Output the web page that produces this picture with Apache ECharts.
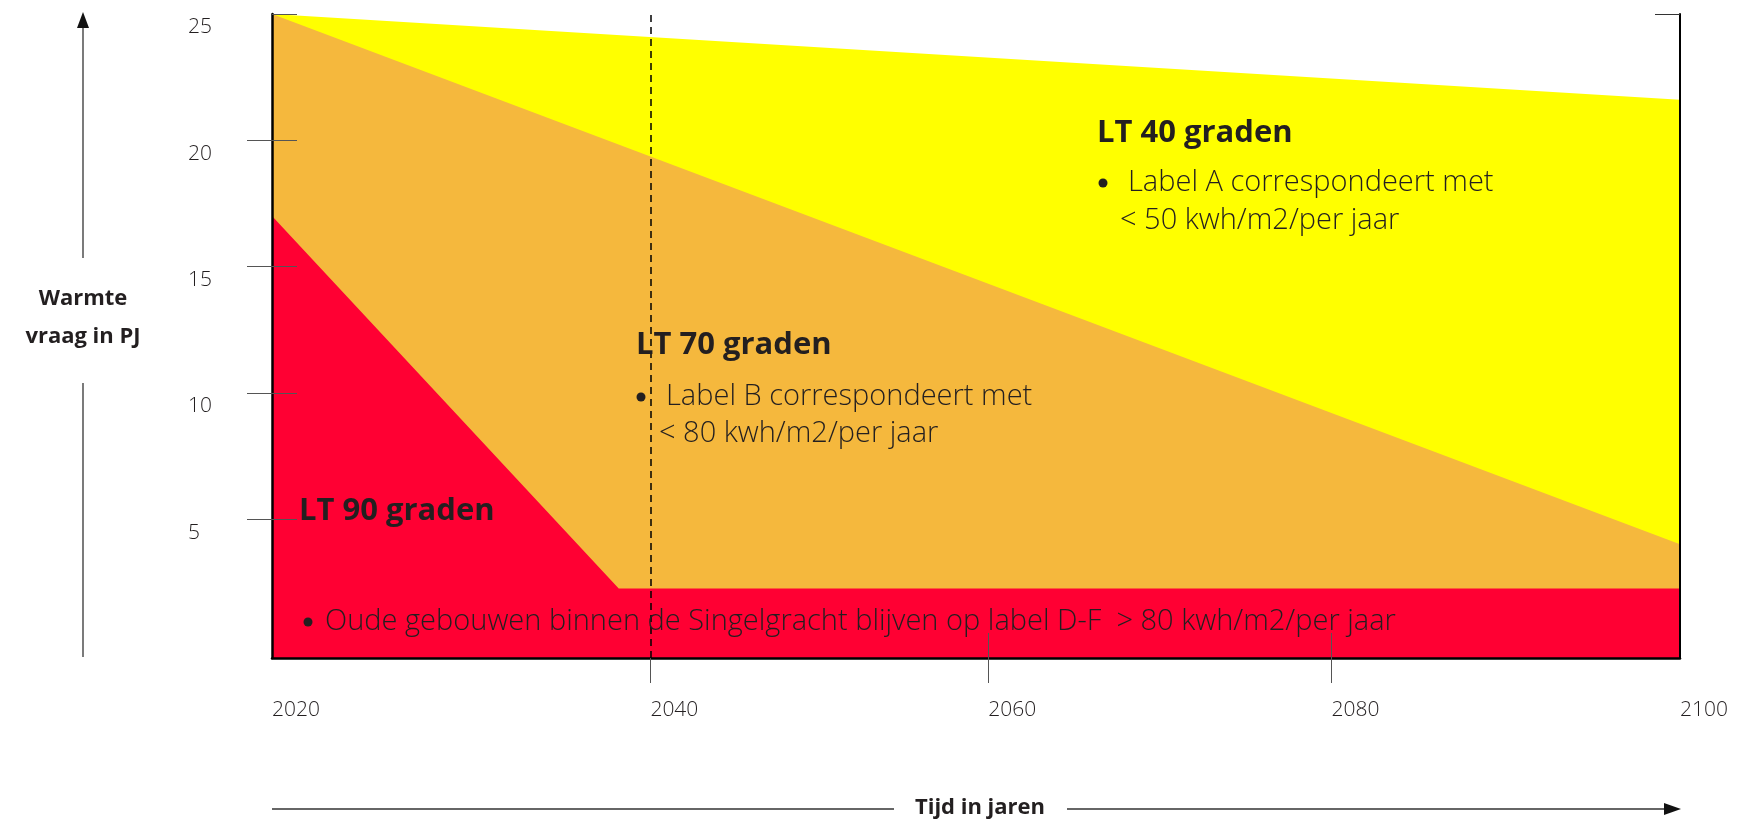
<!DOCTYPE html>
<html>
<head>
<meta charset="utf-8">
<title>Warmtevraag</title>
<script src="https://cdn.jsdelivr.net/npm/echarts@6/dist/echarts.min.js"></script>
<style>
  html, body { margin: 0; padding: 0; background: #fff; }
  #chart { width: 1741px; height: 826px; }
</style>
</head>
<body>
<div id="chart"></div>
<script>
// data (years / PJ)
const lt40Years = [2020, 2100]
const lt40Values = [25, 21.6]
const lt70Years = [2020, 2100]
const lt70Values = [25, 4.0]
const lt90Years = [2020, 2039.7, 2100]
const lt90Values = [17.0, 2.25, 2.25]

// tick positions as drawn (the drawn axis is not evenly spaced)
const xTickValues = [2020, 2041.5, 2060.7, 2080.2, 2100]
const xTickLabels = ['2020', '2040', '2060', '2080', '2100']
const yTickValues = [5, 10, 15, 20, 25]
const markYear = 2041.5

const FONT = 'Open Sans'
const TEXT = '#231f20'

const pairs = (xs, ys) => xs.map((x, i) => [x, ys[i]])

const areaSeries = (name, xs, ys, color) => ({
  name: name,
  type: 'line',
  data: pairs(xs, ys),
  symbol: 'none',
  silent: true,
  lineStyle: { width: 0 },
  areaStyle: { color: color, opacity: 1, origin: 'start' }
})

const chart = echarts.init(document.getElementById('chart'))

const lightText = (text, x, y, size) => ({
  type: 'text', x: x, y: y, z: 100, silent: true,
  style: { text: text, fontFamily: FONT, fontWeight: 300, fontSize: size, fill: TEXT, verticalAlign: 'middle' }
})
const boldText = (text, x, y, size) => ({
  type: 'text', x: x, y: y, z: 100, silent: true,
  style: { text: text, fontFamily: FONT, fontWeight: 'bold', fontSize: size, fill: TEXT, verticalAlign: 'middle' }
})
const bullet = (x, y) => ({ type: 'circle', z: 100, silent: true, shape: { cx: x, cy: y, r: 4.5 }, style: { fill: TEXT } })

const option = {
  animation: false,
  grid: { left: 272, right: 61, top: 14, bottom: 168 },
  xAxis: [
    {
      type: 'value', min: 2020, max: 2100, z: 10,
      splitLine: { show: false },
      axisLine: { onZero: false, lineStyle: { color: '#000', width: 2.5 } },
      axisTick: { customValues: [2041.5, 2060.7, 2080.2], length: 25, lineStyle: { color: '#555', width: 1 } },
      axisLabel: {
        customValues: xTickValues,
        formatter: v => {
          let best = 0
          xTickValues.forEach((t, i) => { if (Math.abs(t - v) < Math.abs(xTickValues[best] - v)) best = i })
          return xTickLabels[best]
        },
        align: 'left', margin: 42, fontFamily: FONT, fontWeight: 300, fontSize: 21, color: TEXT
      }
    },
    {
      type: 'value', min: 2020, max: 2100, position: 'bottom', z: 10,
      splitLine: { show: false },
      axisLine: { show: false, onZero: false },
      axisTick: { inside: true, customValues: [2060.7, 2080.2], length: 25, lineStyle: { color: '#555', width: 1 } },
      axisLabel: { show: false }
    }
  ],
  yAxis: [
    {
      type: 'value', min: -0.5, max: 25, position: 'left', z: 10,
      splitLine: { show: false },
      axisLine: { show: true, onZero: false, lineStyle: { color: '#000', width: 2.5 } },
      axisTick: { show: true, customValues: [5, 10, 15, 20], length: 25, lineStyle: { color: '#555', width: 1 } },
      axisLabel: {
        customValues: yTickValues,
        align: 'left', verticalAlign: 'top', padding: [3, 0, 0, 0], margin: 84,
        fontFamily: FONT, fontWeight: 300, fontSize: 21, color: TEXT
      }
    },
    {
      type: 'value', min: -0.5, max: 25, position: 'left', z: 10,
      splitLine: { show: false },
      axisLine: { show: false, onZero: false },
      axisTick: { show: true, inside: true, customValues: yTickValues, length: 25, lineStyle: { color: '#555', width: 1 } },
      axisLabel: { show: false }
    },
    {
      type: 'value', min: -0.5, max: 25, position: 'right', z: 10,
      splitLine: { show: false },
      axisLine: { show: true, onZero: false, lineStyle: { color: '#000', width: 2 } },
      axisTick: { show: true, inside: true, customValues: [25], length: 25, lineStyle: { color: '#333', width: 1 } },
      axisLabel: { show: false }
    }
  ],
  series: [
    areaSeries('LT 40 graden', lt40Years, lt40Values, '#ffff00'),
    areaSeries('LT 70 graden', lt70Years, lt70Values, '#f5b83d'),
    Object.assign(areaSeries('LT 90 graden', lt90Years, lt90Values, '#ff0033'), {
      markLine: {
        silent: true,
        symbol: 'none',
        label: { show: false },
        lineStyle: { color: '#000', width: 1.5, type: [7, 5] },
        data: [{ xAxis: markYear }]
      }
    })
  ],
  graphic: [
    // y axis name with arrow
    { type: 'line', silent: true, shape: { x1: 83, y1: 26, x2: 83, y2: 258 }, style: { stroke: '#222', lineWidth: 1.2 } },
    { type: 'polygon', silent: true, shape: { points: [[83, 12], [77, 28], [89, 28]] }, style: { fill: '#111' } },
    { type: 'line', silent: true, shape: { x1: 83, y1: 383, x2: 83, y2: 657 }, style: { stroke: '#222', lineWidth: 1.2 } },
    {
      type: 'text', x: 83, y: 318, silent: true,
      style: { text: 'Warmte\nvraag in PJ', fontFamily: FONT, fontWeight: 'bold', fontSize: 22, lineHeight: 38, fill: TEXT, align: 'center', verticalAlign: 'middle' }
    },
    // x axis name with arrow
    { type: 'line', silent: true, shape: { x1: 272, y1: 809, x2: 894, y2: 809 }, style: { stroke: '#666', lineWidth: 2 } },
    { type: 'line', silent: true, shape: { x1: 1067, y1: 809, x2: 1668, y2: 809 }, style: { stroke: '#666', lineWidth: 2 } },
    { type: 'polygon', silent: true, shape: { points: [[1681, 809], [1664, 803], [1664, 815]] }, style: { fill: '#111' } },
    {
      type: 'text', x: 980, y: 808, silent: true,
      style: { text: 'Tijd in jaren', fontFamily: FONT, fontWeight: 'bold', fontSize: 22, fill: TEXT, align: 'center', verticalAlign: 'middle' }
    },
    // annotations
    boldText('LT 40 graden', 1097, 133, 31),
    bullet(1103, 183),
    lightText('Label A correspondeert met', 1128, 183, 29),
    lightText('< 50 kwh/m2/per jaar', 1120, 221, 29),
    boldText('LT 70 graden', 636, 345, 31),
    bullet(641, 397),
    lightText('Label B correspondeert met', 666, 397, 29),
    lightText('< 80 kwh/m2/per jaar', 659, 434, 29),
    boldText('LT 90 graden', 299, 511, 31),
    bullet(308, 622),
    lightText('Oude gebouwen binnen de Singelgracht blijven op label D-F  > 80 kwh/m2/per jaar', 325, 622, 29)
  ]
}

chart.setOption(option)
</script>
</body>
</html>
